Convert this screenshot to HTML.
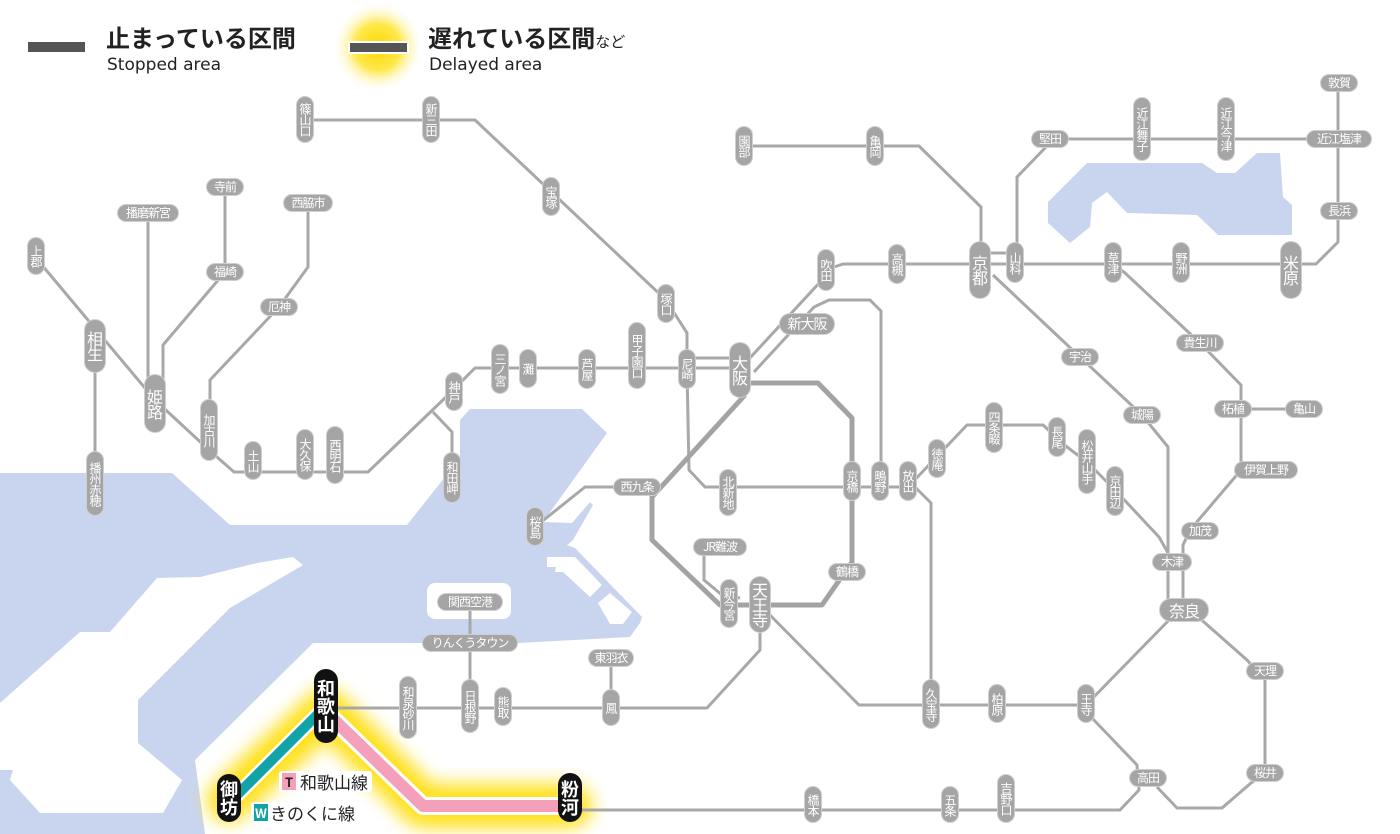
<!DOCTYPE html>
<html><head><meta charset="utf-8">
<style>
body{margin:0;background:#fff;}
#m{position:relative;width:1400px;height:834px;overflow:hidden;background:#fff;font-family:"Liberation Sans","Noto Sans CJK JP",sans-serif;}
svg{position:absolute;left:0;top:0;}
.p{position:absolute;background:#a5a5a5;color:#fff;border-radius:9px;box-shadow:0 0 0 1px #cfcfcf;font-size:12px;text-align:center;white-space:nowrap;font-family:"Noto Sans CJK JP",sans-serif;}
.v{writing-mode:vertical-rl;text-orientation:upright;width:16px;line-height:16px;letter-spacing:-1px;}
.h{height:16px;line-height:16px;letter-spacing:-1px;}
.b{width:20px;line-height:20px;font-size:16px;border-radius:10px;}
.k{background:#111;box-shadow:none;width:24px;line-height:24px;font-size:18px;font-weight:bold;border-radius:12px;letter-spacing:0;}
.lg{position:absolute;color:#222;font-family:"Noto Sans CJK JP",sans-serif;}
</style></head><body><div id="m">
<svg width="1400" height="834" viewBox="0 0 1400 834">
<defs>
<filter id="bl" x="-50%" y="-50%" width="200%" height="200%"><feGaussianBlur stdDeviation="9"/></filter>
<radialGradient id="rg"><stop offset="0" stop-color="#ffd800"/><stop offset="0.5" stop-color="#ffe84a"/><stop offset="1" stop-color="#fff" stop-opacity="0"/></radialGradient>
</defs>
<g fill="#c9d5ef">
<polygon points="0,473 172,473 230,525 407,525 460,458 460,420 470,409 582,409 607,433 543,522 572,523 590,502 593,505 573,540 567,545 575,548 642,617 640,623 630,637 518,643 313,643 195,760 205,834 0,834"/>
<polygon points="1048,202 1087,163 1202,163 1217,173 1235,173 1257,153 1280,153 1283,197 1292,205 1292,235 1218,235 1197,215 1127,213 1107,192 1092,203 1090,227 1070,243 1048,223"/>
</g>
<g fill="#fff">
<polygon points="0,703 80,632 110,632 157,578 200,577 257,563 293,557 303,565 230,608 138,700 138,743 182,780 163,813 40,813 10,780 13,770 0,770"/>
<rect x="427" y="583" width="84" height="36" rx="8"/>
<polygon points="547,557 575,557 602,585 590,597 563,572 555,572 556,567 547,567"/>
<polygon points="598,603 610,593 632,612 623,624 610,624"/>
</g>
<circle cx="378" cy="47" r="46" fill="url(#rg)"/>
<rect x="28" y="42" width="57" height="10" fill="#555"/>
<rect x="348" y="41" width="61" height="13" fill="#fff"/>
<rect x="350" y="43" width="57" height="9" fill="#555"/>
<polyline points="229,800 326,710 423,806 570,806" fill="none" stroke="#ffdd00" stroke-width="44" stroke-linejoin="round" stroke-linecap="round" filter="url(#bl)" opacity="0.9"/>
<g fill="none" stroke="#a8a8a8" stroke-width="3" stroke-linejoin="round">
<polyline points="305,120 475,120 666,300 687,333 687,370"/>
<polyline points="36,258 155,400 209,450 234,472 368,472 446,397 475,368 740,368"/>
<polyline points="433,412 452,432 452,480"/>
<polyline points="95,340 95,490"/>
<polyline points="148,213 148,400"/>
<polyline points="225,187 225,272 163,345 163,400"/>
<polyline points="308,203 308,267 279,307 210,380 210,430"/>
<polyline points="687,358 740,358"/>
<polyline points="687,370 689,470 705,487 908,487"/>
<polyline points="748,360 834,267 843,264 1316,264 1338,242 1338,83"/>
<polyline points="754,372 814,307 829,300 870,300 881,311 881,480"/>
<polyline points="1050,139 1338,139"/>
<polyline points="1046,147 1017,177 1017,262"/>
<polyline points="985,253 1012,253"/>
<polyline points="744,146 919,146 981,207 981,260"/>
<polyline points="993,275 1080,357 1142,415 1168,447 1168,610"/>
<polyline points="1113,264 1125,273 1200,343 1241,385 1241,470 1190,530 1183,545 1183,610"/>
<polyline points="1233,409 1304,409"/>
<polyline points="908,487 967,425 1043,425 1067,447 1087,462 1115,490 1159,537 1172,560"/>
<polyline points="908,480 931,503 931,705"/>
<polyline points="760,605 859,705 1086,705 1171,618"/>
<polyline points="1196,615 1247,660 1265,680 1265,773 1251,783 1222,808 1177,808 1157,787"/>
<polyline points="1092,718 1137,765 1139,790 1120,810 570,810"/>
<polyline points="637,487 585,487 535,527"/>
<polyline points="704,553 704,580 722,595 740,598"/>
<polyline points="760,630 760,650 707,708 338,708"/>
<polyline points="611,658 611,700"/>
<polyline points="470,602 470,700"/>
</g>
<polyline points="745,383 818,383 852,418 852,562 822,605 720,605 652,540 652,497 745,395" fill="none" stroke="#a3a3a3" stroke-width="5" stroke-linejoin="round"/>
<polyline points="326,712 423,806 570,806" fill="none" stroke="#fff" stroke-width="18" stroke-linejoin="round"/>
<polyline points="326,712 423,806 570,806" fill="none" stroke="#f4a0bb" stroke-width="12" stroke-linejoin="round"/>
<polyline points="320,712 232,800" fill="none" stroke="#fff" stroke-width="15"/>
<polyline points="320,712 232,800" fill="none" stroke="#12a3a7" stroke-width="10"/>
</svg>

<div class="lg" style="left:106px;top:23px;font-size:24px;line-height:28px;font-weight:bold;">止まっている区間</div>
<div class="lg" style="left:107px;top:54px;font-family:'DejaVu Sans',sans-serif;font-size:17px;line-height:22px;">Stopped area</div>
<div class="lg" style="left:428px;top:23px;font-size:24px;line-height:28px;font-weight:bold;">遅れている区間<span style="font-size:15px;font-weight:normal">など</span></div>
<div class="lg" style="left:429px;top:54px;font-family:'DejaVu Sans',sans-serif;font-size:17px;line-height:22px;">Delayed area</div>

<div class="p v" style="left:297px;top:97px;height:45px">篠山口</div>
<div class="p v" style="left:423px;top:97px;height:45px">新三田</div>
<div class="p v" style="left:543px;top:178px;height:37px">宝塚</div>
<div class="p v" style="left:658px;top:285px;height:37px">塚口</div>
<div class="p v" style="left:679px;top:350px;height:38px">尼崎</div>
<div class="p v" style="left:629px;top:323px;height:65px">甲子園口</div>
<div class="p v" style="left:579px;top:350px;height:38px">芦屋</div>
<div class="p v" style="left:520px;top:350px;height:37px">灘</div>
<div class="p v" style="left:492px;top:345px;height:48px">三ノ宮</div>
<div class="p v" style="left:446px;top:373px;height:37px">神戸</div>
<div class="p v" style="left:444px;top:453px;height:49px">和田岬</div>
<div class="p v" style="left:327px;top:427px;height:56px">西明石</div>
<div class="p v" style="left:297px;top:430px;height:49px">大久保</div>
<div class="p v" style="left:245px;top:442px;height:37px">土山</div>
<div class="p v" style="left:201px;top:400px;height:60px">加古川</div>
<div class="p v" style="left:28px;top:238px;height:36px">上郡</div>
<div class="p v" style="left:87px;top:452px;height:63px">播州赤穂</div>
<div class="p v" style="left:818px;top:250px;height:40px">吹田</div>
<div class="p v" style="left:889px;top:245px;height:38px">高槻</div>
<div class="p v" style="left:1007px;top:243px;height:39px">山科</div>
<div class="p v" style="left:1105px;top:243px;height:39px">草津</div>
<div class="p v" style="left:1173px;top:243px;height:39px">野洲</div>
<div class="p v" style="left:1134px;top:98px;height:62px">近江舞子</div>
<div class="p v" style="left:1218px;top:98px;height:62px">近江今津</div>
<div class="p v" style="left:736px;top:127px;height:38px">園部</div>
<div class="p v" style="left:867px;top:127px;height:38px">亀岡</div>
<div class="p v" style="left:720px;top:470px;height:45px">北新地</div>
<div class="p v" style="left:844px;top:462px;height:38px">京橋</div>
<div class="p v" style="left:872px;top:462px;height:38px">鴫野</div>
<div class="p v" style="left:900px;top:462px;height:38px">放出</div>
<div class="p v" style="left:929px;top:440px;height:37px">徳庵</div>
<div class="p v" style="left:986px;top:403px;height:49px">四条畷</div>
<div class="p v" style="left:1049px;top:418px;height:38px">長尾</div>
<div class="p v" style="left:1079px;top:430px;height:63px">松井山手</div>
<div class="p v" style="left:1107px;top:467px;height:48px">京田辺</div>
<div class="p v" style="left:721px;top:580px;height:47px">新今宮</div>
<div class="p v" style="left:923px;top:680px;height:48px">久宝寺</div>
<div class="p v" style="left:989px;top:685px;height:37px">柏原</div>
<div class="p v" style="left:1078px;top:685px;height:37px">王寺</div>
<div class="p v" style="left:527px;top:508px;height:37px">桜島</div>
<div class="p v" style="left:400px;top:677px;height:61px">和泉砂川</div>
<div class="p v" style="left:462px;top:680px;height:52px">日根野</div>
<div class="p v" style="left:495px;top:688px;height:37px">熊取</div>
<div class="p v" style="left:603px;top:690px;height:35px">鳳</div>
<div class="p v" style="left:805px;top:787px;height:35px">橋本</div>
<div class="p v" style="left:942px;top:787px;height:35px">五条</div>
<div class="p v" style="left:998px;top:775px;height:47px">吉野口</div>
<div class="p v b" style="left:85px;top:320px;height:52px">相生</div>
<div class="p v b" style="left:145px;top:375px;height:57px">姫路</div>
<div class="p v b" style="left:730px;top:343px;height:54px">大阪</div>
<div class="p v b" style="left:970px;top:242px;height:56px">京都</div>
<div class="p v b" style="left:1281px;top:242px;height:56px">米原</div>
<div class="p v b" style="left:750px;top:577px;height:55px">天王寺</div>
<div class="p v k" style="left:314px;top:669px;height:74px">和歌山</div>
<div class="p v k" style="left:558px;top:773px;height:49px">粉河</div>
<div class="p v k" style="left:217px;top:774px;height:48px">御坊</div>
<div class="p h" style="left:207px;top:179px;width:36px">寺前</div>
<div class="p h" style="left:207px;top:264px;width:36px">福崎</div>
<div class="p h" style="left:118px;top:205px;width:60px">播磨新宮</div>
<div class="p h" style="left:284px;top:195px;width:48px">西脇市</div>
<div class="p h" style="left:261px;top:299px;width:36px">厄神</div>
<div class="p h" style="left:1032px;top:131px;width:36px">堅田</div>
<div class="p h" style="left:1307px;top:131px;width:64px">近江塩津</div>
<div class="p h" style="left:1321px;top:75px;width:36px">敦賀</div>
<div class="p h" style="left:1321px;top:203px;width:36px">長浜</div>
<div class="p h" style="left:1062px;top:349px;width:36px">宇治</div>
<div class="p h" style="left:1124px;top:407px;width:36px">城陽</div>
<div class="p h" style="left:1177px;top:335px;width:46px">貴生川</div>
<div class="p h" style="left:1215px;top:401px;width:36px">柘植</div>
<div class="p h" style="left:1286px;top:401px;width:36px">亀山</div>
<div class="p h" style="left:1235px;top:462px;width:62px">伊賀上野</div>
<div class="p h" style="left:1182px;top:523px;width:36px">加茂</div>
<div class="p h" style="left:1153px;top:554px;width:38px">木津</div>
<div class="p h" style="left:1247px;top:663px;width:36px">天理</div>
<div class="p h" style="left:1247px;top:765px;width:36px">桜井</div>
<div class="p h" style="left:1130px;top:770px;width:36px">高田</div>
<div class="p h" style="left:829px;top:564px;width:36px">鶴橋</div>
<div class="p h" style="left:694px;top:539px;width:52px">JR難波</div>
<div class="p h" style="left:614px;top:479px;width:46px">西九条</div>
<div class="p h" style="left:438px;top:594px;width:64px">関西空港</div>
<div class="p h" style="left:423px;top:635px;width:94px">りんくうタウン</div>
<div class="p h" style="left:589px;top:650px;width:44px">東羽衣</div>
<div class="p h" style="left:780px;top:314px;width:54px;height:20px;line-height:20px;font-size:14px;border-radius:10px">新大阪</div>
<div class="p h" style="left:1160px;top:599px;width:48px;height:22px;line-height:22px;font-size:16px;border-radius:11px">奈良</div>
<div style="position:absolute;left:279px;top:771px;width:93px;height:21px;background:#fff;border-radius:3px;font:17px/21px 'Noto Sans CJK JP',sans-serif;color:#222;white-space:nowrap;"><span style="display:inline-block;width:14px;height:17px;line-height:17px;margin:2px 4px 0 3px;background:#f4a0bb;color:#222;font-size:13px;font-weight:bold;text-align:center;vertical-align:top;">T</span>和歌山線</div>
<div style="position:absolute;left:251px;top:802px;width:107px;height:21px;background:#fff;border-radius:3px;font:17px/21px 'Noto Sans CJK JP',sans-serif;color:#222;white-space:nowrap;"><span style="display:inline-block;width:14px;height:17px;line-height:17px;margin:2px 2px 0 3px;background:#12a3a7;color:#fff;font-size:13px;font-weight:bold;text-align:center;vertical-align:top;">W</span>きのくに線</div>
</div></body></html>
